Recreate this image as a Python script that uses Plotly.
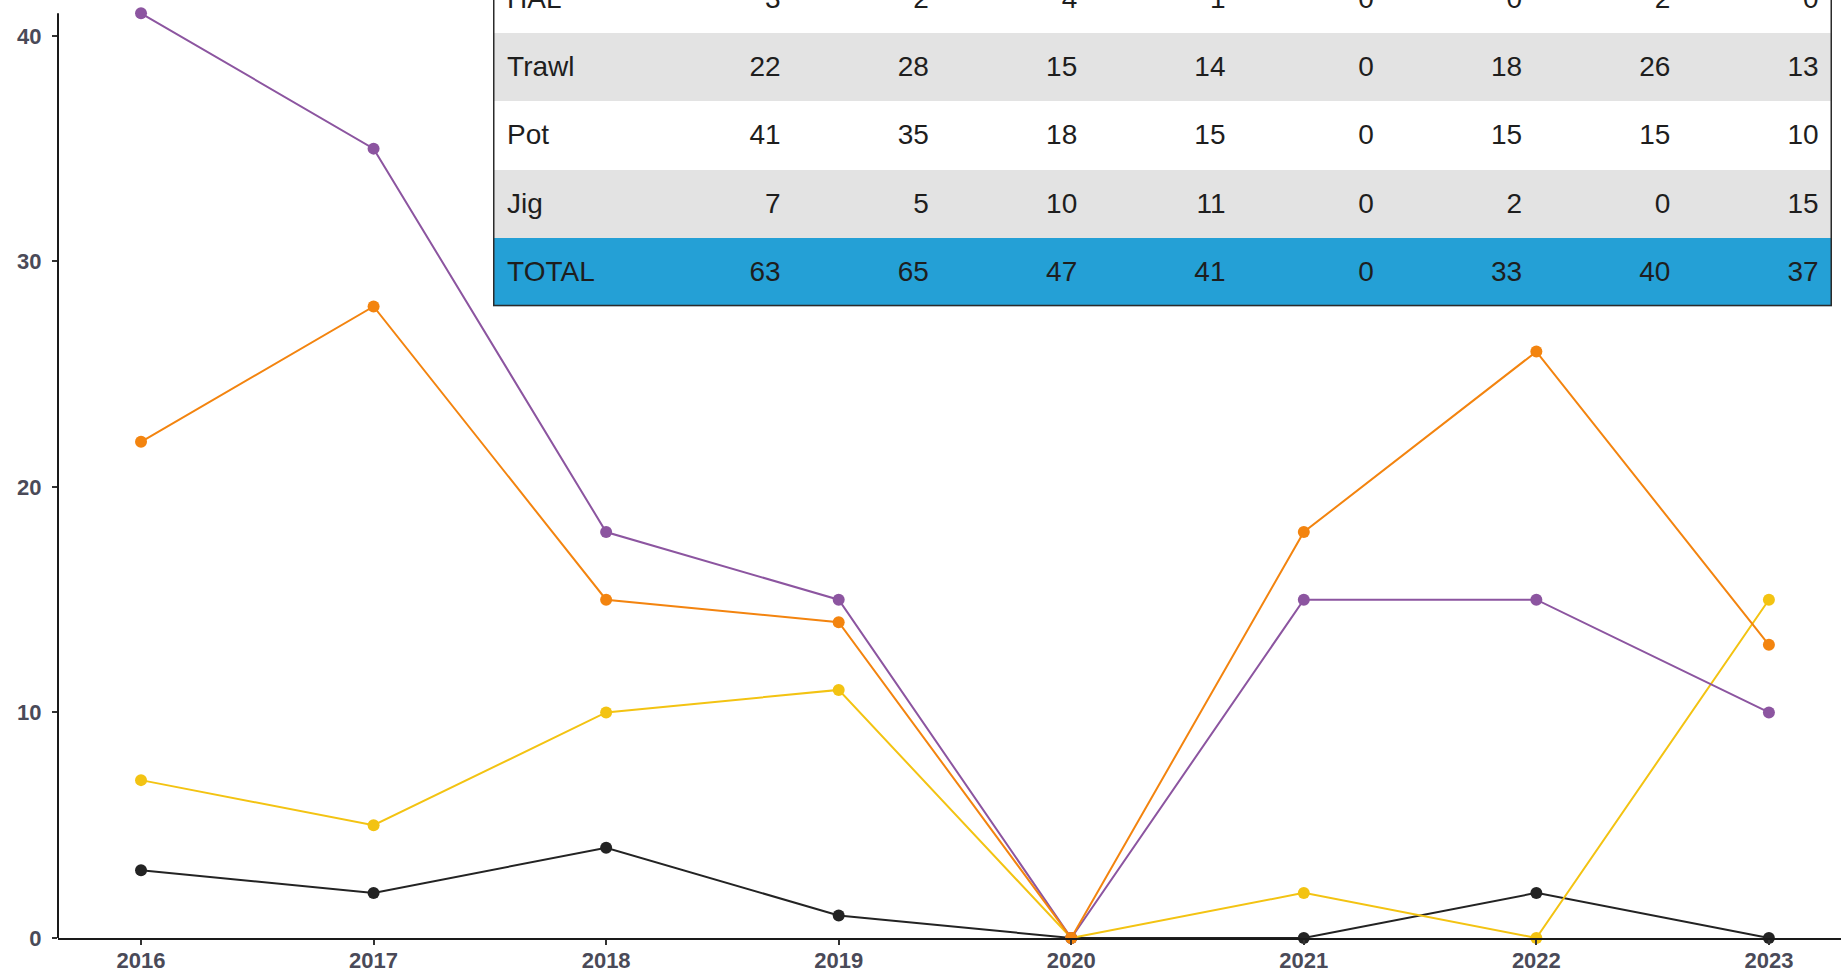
import plotly.graph_objects as go

# ---------------- data ----------------
years = [2016, 2017, 2018, 2019, 2020, 2021, 2022, 2023]
hal = [3, 2, 4, 1, 0, 0, 2, 0]
trawl = [22, 28, 15, 14, 0, 18, 26, 13]
pot = [41, 35, 18, 15, 0, 15, 15, 10]
jig = [7, 5, 10, 11, 0, 2, 0, 15]
total = [63, 65, 47, 41, 0, 33, 40, 37]

row_labels = ["TOTAL", "Jig", "Pot", "Trawl", "HAL"]          # bottom -> top
row_values = [total, jig, pot, trawl, hal]
row_style = [2, 1, 0, 1, 0]                                       # 0 white, 1 grey, 2 blue

y_ticks = [0, 10, 20, 30, 40]

# ---------------- styles ----------------
C_HAL = "#232323"
C_TRAWL = "#f3840f"
C_POT = "#8c55a0"
C_JIG = "#f3c312"
TICK_FONT = dict(family="Liberation Sans, Arial, sans-serif", size=22, color="#4a4a58", weight="bold")
TABLE_FONT = dict(family="Liberation Sans, Arial, sans-serif", size=28, color="#1e1e1e")

fig = go.Figure()

series = [("HAL", hal, C_HAL), ("Jig", jig, C_JIG), ("Pot", pot, C_POT), ("Trawl", trawl, C_TRAWL)]
for name, vals, col in series:
    fig.add_trace(go.Scatter(
        x=years, y=vals, name=name, mode="lines+markers",
        line=dict(color=col, width=2), marker=dict(color=col, size=12),
        cliponaxis=False, xaxis="x", yaxis="y", showlegend=False,
    ))

# ---------------- table on its own axes ----------------
label_w = 1.03
col_edges = [0] + [label_w + i for i in range(len(years) + 1)]
tab_w = col_edges[-1]

fig.add_trace(go.Heatmap(
    z=[[s] for s in row_style], x=[0, tab_w], y=list(range(len(row_labels) + 1)),
    colorscale=[[0, "#ffffff"], [0.5, "#e3e3e3"], [1, "#24a0d6"]],
    zmin=0, zmax=2, showscale=False, hoverinfo="skip", xaxis="x2", yaxis="y2",
))

lab_x, lab_y, lab_t = [], [], []
val_x, val_y, val_t = [], [], []
for r, (lab, vals) in enumerate(zip(row_labels, row_values)):
    lab_x.append(0.095)
    lab_y.append(r + 0.47)
    lab_t.append(lab)
    for c, v in enumerate(vals):
        val_x.append(col_edges[c + 2] - 0.09)
        val_y.append(r + 0.47)
        val_t.append(str(v))

fig.add_trace(go.Scatter(x=lab_x, y=lab_y, text=lab_t, mode="text", textposition="middle right",
                         textfont=TABLE_FONT, xaxis="x2", yaxis="y2", showlegend=False,
                         hoverinfo="skip", cliponaxis=True))
fig.add_trace(go.Scatter(x=val_x, y=val_y, text=val_t, mode="text", textposition="middle left",
                         textfont=TABLE_FONT, xaxis="x2", yaxis="y2", showlegend=False,
                         hoverinfo="skip", cliponaxis=True))

# table border + shadow
fig.add_shape(type="rect", xref="x2", yref="y2", x0=0.03, x1=tab_w + 0.03, y0=-0.05, y1=len(row_labels) + 1,
              line=dict(width=0), fillcolor="rgba(0,0,0,0.12)", layer="below")
fig.add_shape(type="rect", xref="x2", yref="y2", x0=0, x1=tab_w, y0=0, y1=len(row_labels) + 1,
              line=dict(color="#2b2b2b", width=3))

# main y axis line (stops at top of data range)
fig.add_shape(type="line", xref="paper", yref="y", x0=0, x1=0, y0=0, y1=41,
              line=dict(color="#1a1a1a", width=2))

fig.update_layout(
    width=1841, height=973,
    margin=dict(l=58, r=0, t=0, b=33),
    paper_bgcolor="white", plot_bgcolor="white",
    xaxis=dict(range=[2015.643, 2023.31], tickvals=years, ticktext=[str(y) for y in years],
               showgrid=False, zeroline=False, showline=True, linecolor="#1a1a1a", linewidth=2,
               ticks="outside", ticklen=5, tickwidth=1.5, tickcolor="#333",
               tickfont=TICK_FONT, ticklabelstandoff=-3),
    yaxis=dict(range=[0, 41.59], tickvals=y_ticks, showgrid=False, zeroline=False, showline=False,
               ticks="outside", ticklen=5, tickwidth=1.5, tickcolor="#333",
               tickfont=TICK_FONT, ticklabelstandoff=6),
    xaxis2=dict(domain=[(493 - 58) / 1783, (1832 - 58) / 1783], range=[0, tab_w], visible=False,
                anchor="y2", fixedrange=True),
    yaxis2=dict(domain=[(940 - 307) / 940, 1], range=[0, 4.48], visible=False,
                anchor="x2", fixedrange=True),
)

fig.write_html("out.html", config={"displayModeBar": False},
               post_script="document.body.style.margin='0';")
